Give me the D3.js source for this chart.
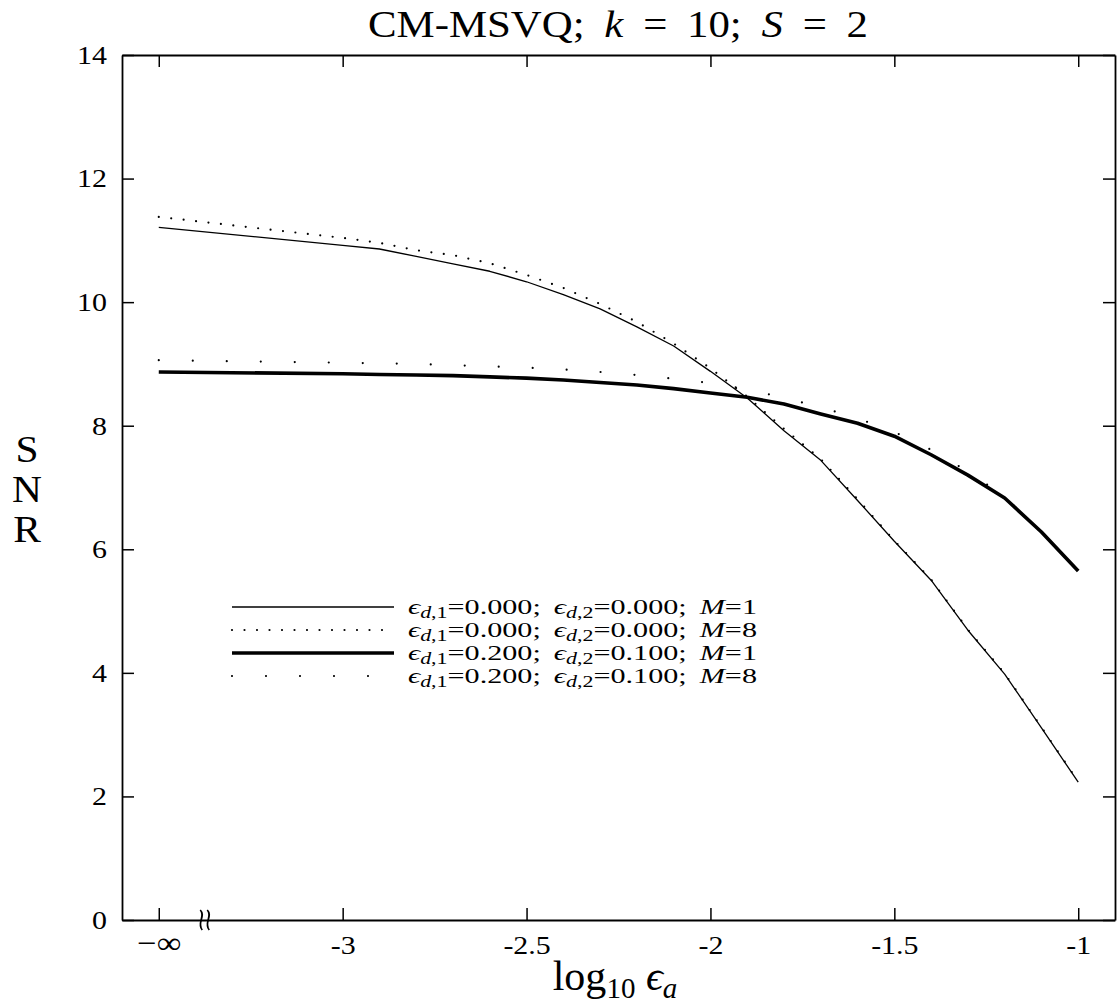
<!DOCTYPE html>
<html>
<head>
<meta charset="utf-8">
<script src="https://cdn.jsdelivr.net/npm/d3@7"></script>
<style>
  body { margin: 0; background: #fff; }
  text { font-family: "Liberation Serif", "DejaVu Serif", serif; fill: #000; }
</style>
</head>
<body>
<svg id="chart" width="1119" height="1008"></svg>
<script>
// -infinity is drawn at log10 = -3.5, left of the axis break
const NEG_INF = -3.5;
const logEa = [NEG_INF, -3.0, -2.9, -2.8, -2.7, -2.6, -2.5, -2.4, -2.3, -2.2, -2.1,
               -2.0, -1.9, -1.8, -1.7, -1.6, -1.5, -1.4, -1.3, -1.2, -1.1, -1.0];

// eps_d1 = 0.000, eps_d2 = 0.000, M = 1
const snrClean1 = [11.21, 10.92, 10.86, 10.74, 10.62, 10.50, 10.33, 10.12, 9.89, 9.60, 9.29,
                   8.88, 8.45, 7.92, 7.44, 6.79, 6.13, 5.50, 4.69, 3.98, 3.11, 2.23];
// eps_d1 = 0.000, eps_d2 = 0.000, M = 8
const snrClean8 = [11.38, 11.04, 10.96, 10.84, 10.76, 10.63, 10.44, 10.23, 9.97, 9.68, 9.33,
                   8.93, 8.47, 7.95, 7.46, 6.81, 6.14, 5.51, 4.70, 3.99, 3.12, 2.24];
// eps_d1 = 0.200, eps_d2 = 0.100, M = 1
const snrNoisy1 = [8.87, 8.84, 8.83, 8.82, 8.81, 8.79, 8.77, 8.74, 8.70, 8.66, 8.60,
                   8.53, 8.46, 8.35, 8.19, 8.04, 7.83, 7.53, 7.20, 6.83, 6.28, 5.65];
// eps_d1 = 0.200, eps_d2 = 0.100, M = 8
const snrNoisy8 = [9.06, 9.02, 9.01, 9.00, 8.98, 8.96, 8.94, 8.91, 8.87, 8.82, 8.76,
                   8.69, 8.59, 8.45, 8.30, 8.12, 7.90, 7.61, 7.26, 6.85, 6.27, 5.66];

const xTicks = [NEG_INF, -3, -2.5, -2, -1.5, -1];
const xTickLabels = ["\u2212\u221e", "-3", "-2.5", "-2", "-1.5", "-1"];
const yTicks = [0, 2, 4, 6, 8, 10, 12, 14];

const legendEps1 = ["0.000", "0.000", "0.200", "0.200"];
const legendEps2 = ["0.000", "0.000", "0.100", "0.100"];
const legendM = ["1", "8", "1", "8"];

const seriesStyle = [
  { width: 1.3, dash: null },
  { width: 2.2, dash: "0 12.5" },
  { width: 3.6, dash: null },
  { width: 2.2, dash: "0 34" }
];
const seriesValues = [snrClean1, snrClean8, snrNoisy1, snrNoisy8];

const svg = d3.select("#chart");
const margin = { top: 55, right: 4, bottom: 88, left: 122 };
const W = 1119, H = 1008;

const x = d3.scaleLinear().domain([-3.6, -0.9]).range([margin.left, W - margin.right]);
const y = d3.scaleLinear().domain([0, 14]).range([H - margin.bottom, margin.top]);

// the reference type is set a bit wider than the system serif, stretch it
function widen(sel, factor) {
  sel.each(function () {
    const w = this.getComputedTextLength();
    d3.select(this).attr("textLength", w * factor).attr("lengthAdjust", "spacingAndGlyphs");
  });
}

// axes (ticks point inwards, mirrored on top/right)
const fmtX = d => xTickLabels[xTicks.indexOf(d)];
svg.append("g").attr("class", "x-axis")
  .attr("transform", `translate(0,${y(0)})`)
  .call(d3.axisBottom(x).tickValues(xTicks).tickFormat(fmtX).tickSizeInner(-12).tickSizeOuter(0).tickPadding(16));
svg.append("g").attr("class", "x-top")
  .attr("transform", `translate(0,${y(14)})`)
  .call(d3.axisTop(x).tickValues(xTicks).tickFormat("").tickSizeInner(-12).tickSizeOuter(0));
svg.append("g").attr("class", "y-axis")
  .attr("transform", `translate(${x(-3.6)},0)`)
  .call(d3.axisLeft(y).tickValues(yTicks).tickSizeInner(-12).tickSizeOuter(0).tickPadding(15));
svg.append("g").attr("class", "y-right")
  .attr("transform", `translate(${x(-0.9)},0)`)
  .call(d3.axisRight(y).tickValues(yTicks).tickFormat("").tickSizeInner(-12).tickSizeOuter(0));

svg.selectAll(".domain").attr("stroke", "#000").attr("stroke-width", 1.8);
svg.selectAll(".tick line").attr("stroke", "#000").attr("stroke-width", 1.5);
svg.selectAll("g.x-axis, g.y-axis").attr("font-size", 26);
svg.selectAll(".tick text").style("font-size", "26px").attr("fill", "#000");
svg.select(".x-axis").selectAll(".tick text")
  .filter(d => d === NEG_INF).style("font-size", "30px").attr("dy", "0.55em");
widen(svg.selectAll(".tick text"), 1.15);

// axis break mark
const bx = x(-3.375), by = y(0);
[-3.5, 3.5].forEach(off => {
  svg.append("path")
    .attr("d", `M${bx + off - 1},${by - 10} C${bx + off + 5},${by - 4} ${bx + off - 5},${by + 3} ${bx + off + 1},${by + 10}`)
    .attr("fill", "none").attr("stroke", "#000").attr("stroke-width", 1.7);
});

// curves
const line = d3.line().x((d, i) => x(logEa[i])).y(d => y(d));
seriesValues.forEach((vals, k) => {
  const st = seriesStyle[k];
  svg.append("path").datum(vals)
    .attr("d", line)
    .attr("fill", "none")
    .attr("stroke", "#000")
    .attr("stroke-width", st.width)
    .attr("stroke-linecap", st.dash ? "round" : "butt")
    .attr("stroke-linejoin", "round")
    .attr("stroke-dasharray", st.dash);
});

// legend
const legendY = [614, 637, 660, 683];
const lg = svg.append("g").attr("class", "legend");
seriesStyle.forEach((st, k) => {
  lg.append("line")
    .attr("x1", 232).attr("x2", 394)
    .attr("y1", legendY[k] - 7).attr("y2", legendY[k] - 7)
    .attr("stroke", "#000")
    .attr("stroke-width", st.width)
    .attr("stroke-linecap", st.dash ? "round" : "butt")
    .attr("stroke-dasharray", st.dash);
  const t = lg.append("text").attr("x", 408).attr("y", legendY[k])
    .attr("textLength", 349).attr("lengthAdjust", "spacingAndGlyphs")
    .style("font-size", "22px").style("word-spacing", "4px");
  const eps = (sub, val) => {
    t.append("tspan").style("font-style", "italic").text("\u03f5");
    t.append("tspan").attr("dy", 4).style("font-size", "16px").style("font-style", "italic").text("d");
    t.append("tspan").style("font-size", "16px").text("," + sub);
    t.append("tspan").attr("dy", -4).text("=" + val + "; ");
  };
  eps("1", legendEps1[k]);
  eps("2", legendEps2[k]);
  t.append("tspan").style("font-style", "italic").text("M");
  t.append("tspan").text("=" + legendM[k]);
});

// title
const title = svg.append("text").attr("x", 618).attr("y", 37)
  .attr("text-anchor", "middle")
  .attr("textLength", 500).attr("lengthAdjust", "spacingAndGlyphs")
  .style("font-size", "38px").style("word-spacing", "8px");
title.append("tspan").text("CM-MSVQ; ");
title.append("tspan").style("font-style", "italic").text("k");
title.append("tspan").text(" = 10; ");
title.append("tspan").style("font-style", "italic").text("S");
title.append("tspan").text(" = 2");

// y label: stacked letters in one text
const yl = svg.append("text").attr("text-anchor", "middle").style("font-size", "37px");
["S", "N", "R"].forEach((c, i) => {
  yl.append("tspan").attr("x", 27).attr("y", 462 + i * 40).text(c);
});
widen(yl.selectAll("tspan"), 1.12);

// x label
const xl = svg.append("text").attr("x", 615).attr("y", 990)
  .attr("text-anchor", "middle").style("font-size", "42px");
xl.append("tspan").text("log");
xl.append("tspan").attr("dy", 8).style("font-size", "29px").text("10");
xl.append("tspan").attr("dy", -8).style("font-style", "italic").text(" \u03f5");
xl.append("tspan").attr("dy", 8).style("font-size", "29px").style("font-style", "italic").text("a");
</script>
</body>
</html>
